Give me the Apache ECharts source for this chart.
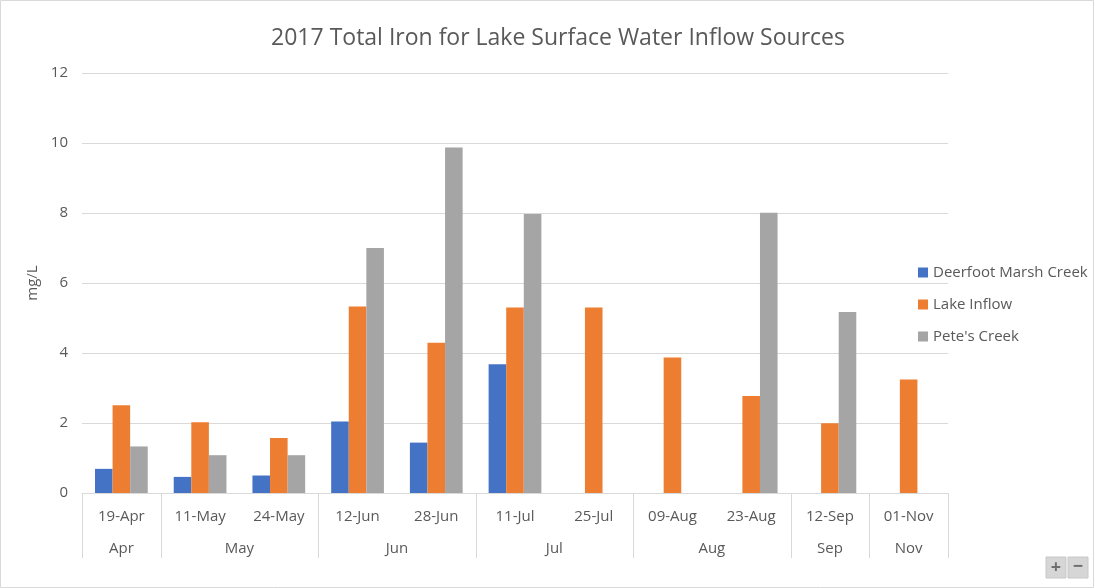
<!DOCTYPE html>
<html>
<head>
<meta charset="utf-8">
<script src="https://cdn.jsdelivr.net/npm/echarts@6/dist/echarts.min.js"></script>
<style>
html,body{margin:0;padding:0;background:#fff;}
#chart{width:1095px;height:588px;}
</style>
</head>
<body>
<div id="chart"></div>
<script>
var dates = ['19-Apr','11-May','24-May','12-Jun','28-Jun','11-Jul','25-Jul','09-Aug','23-Aug','12-Sep','01-Nov'];
var months = ['Apr','May','Jun','Jul','Aug','Sep','Nov'];
var monthCounts = [1,2,2,2,2,1,1];
var deerfoot = [0.69,0.46,0.50,2.04,1.44,3.68,null,null,null,null,null];
var lakeInflow = [2.51,2.02,1.57,5.33,4.29,5.30,5.30,3.87,2.77,1.99,3.24];
var petes = [1.33,1.08,1.08,7.00,9.87,7.97,null,null,8.01,5.17,null];
var yTicks = [0,2,4,6,8,10,12];

var FONT = '"Open Sans", "Noto Sans", sans-serif';
var TXT = '#595959';

// month group centers and boundaries
var centers = {}, bounds = [0], acc = 0;
months.forEach(function(m,i){ centers[acc + monthCounts[i]/2] = m; acc += monthCounts[i]; bounds.push(acc); });

var chart = echarts.init(document.getElementById('chart'));
var option = {
  animation:false,
  textStyle:{fontFamily:FONT},
  title:{text:'2017 Total Iron for Lake Surface Water Inflow Sources', left:553, textAlign:'center', top:22,
    textStyle:{fontFamily:FONT, fontSize:23, fontWeight:'normal', color:TXT}},
  legend:{orient:'vertical', left:913, top:260, itemWidth:10, itemHeight:10, itemGap:17, icon:'rect',
    textStyle:{fontFamily:FONT, fontSize:15, color:TXT},
    data:['Deerfoot Marsh Creek','Lake Inflow',"Pete's Creek"]},
  grid:{left:82, right:147, top:73, bottom:95, containLabel:false},
  xAxis:[{
    type:'category', data:dates,
    axisLine:{lineStyle:{color:'#d9d9d9', width:1}},
    axisTick:{show:false},
    axisLabel:{color:TXT, fontSize:15, fontFamily:FONT, margin:16, interval:0}
  },{
    type:'value', min:0, max:dates.length, interval:0.5, position:'bottom',
    axisLine:{show:false}, axisTick:{show:false}, splitLine:{show:false},
    axisLabel:{color:TXT, fontSize:15, fontFamily:FONT, margin:48, showMinLabel:true, showMaxLabel:true,
      formatter:function(v){ return centers[v] || ''; }}
  }],
  yAxis:{
    type:'value', min:yTicks[0], max:yTicks[yTicks.length-1], interval:2,
    name:'mg/L', nameLocation:'middle', nameGap:42, nameRotate:90,
    nameTextStyle:{color:TXT, fontSize:15, fontFamily:FONT},
    axisLine:{show:false}, axisTick:{show:false},
    axisLabel:{color:TXT, fontSize:15, fontFamily:FONT, margin:14},
    splitLine:{lineStyle:{color:'#d9d9d9', width:1}}
  },
  series:[
    {name:'Deerfoot Marsh Creek', type:'bar', data:deerfoot, itemStyle:{color:'#4472c4'}, barGap:'0%', barCategoryGap:'33%'},
    {name:'Lake Inflow', type:'bar', data:lakeInflow, itemStyle:{color:'#ed7d31'}, barGap:'0%', barCategoryGap:'33%'},
    {name:"Pete's Creek", type:'bar', data:petes, itemStyle:{color:'#a5a5a5'}, barGap:'0%', barCategoryGap:'33%'}
  ]
};
chart.setOption(option);

var y0 = chart.convertToPixel({yAxisIndex:0}, 0);
var gfx = bounds.map(function(b){
  var x = Math.round(chart.convertToPixel({xAxisIndex:1}, b)) + 0.5;
  return {type:'line', shape:{x1:x, y1:y0, x2:x, y2:y0+65}, style:{stroke:'#d9d9d9', lineWidth:1}, silent:true};
});
gfx.push({type:'rect', shape:{x:0.5, y:0.5, width:1093, height:587}, style:{fill:'none', stroke:'#d9d9d9', lineWidth:1}, silent:true});
gfx.push({type:'rect', shape:{x:1046, y:557, width:20, height:21}, style:{fill:'#d6d6d6', stroke:'#c8c8c8'}});
gfx.push({type:'rect', shape:{x:1068, y:557, width:20, height:21}, style:{fill:'#d6d6d6', stroke:'#c8c8c8'}});
gfx.push({type:'text', x:1056, y:567.5, style:{text:'+', fill:'#6e6e6e', font:'bold 18px ' + FONT, align:'center', verticalAlign:'middle'}});
gfx.push({type:'text', x:1078, y:566.5, style:{text:'−', fill:'#6e6e6e', font:'bold 18px ' + FONT, align:'center', verticalAlign:'middle'}});
chart.setOption({graphic:{elements:gfx}});
</script>
</body>
</html>
